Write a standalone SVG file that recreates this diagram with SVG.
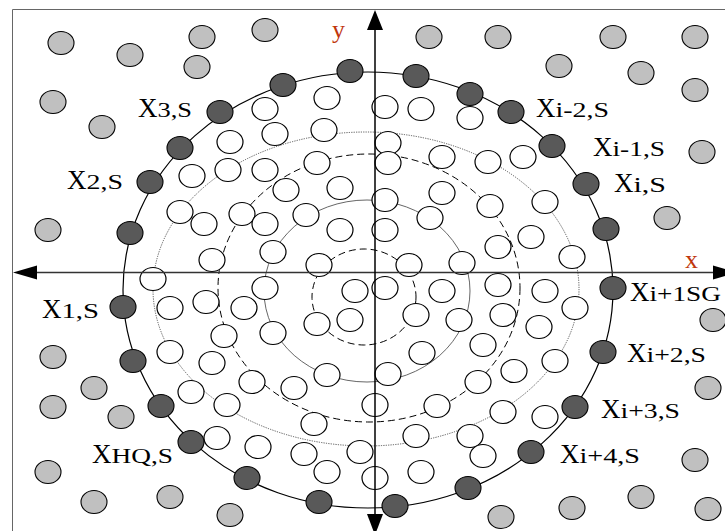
<svg xmlns="http://www.w3.org/2000/svg" width="725" height="531" viewBox="0 0 725 531">
<style>
.w{fill:#fff;stroke:#000;stroke-width:1.2}
.g{fill:#c0c0c0;stroke:#000;stroke-width:1.1}
.d{fill:#595959;stroke:#000;stroke-width:1.1}
.ring{fill:none}
.X{font-family:"Liberation Serif","Times New Roman",serif;font-size:27px;fill:#000}
.s{font-family:"Liberation Serif","Times New Roman",serif;font-size:20px;fill:#000}
.ax{font-family:"Liberation Serif","Times New Roman",serif;font-size:26px;fill:#c0360c}
</style>
<rect width="725" height="531" fill="#fff"/>
<path d="M12.5,531 V9.5 H725" fill="none" stroke="#666" stroke-width="1"/>
<g id="rings">
<ellipse class="ring" cx="368" cy="290" rx="245" ry="218" stroke="#000" stroke-width="1.2"/>
<ellipse class="ring" cx="366" cy="289" rx="213" ry="157" stroke="#444" stroke-width="0.9" stroke-dasharray="1.2 1.2"/>
<ellipse class="ring" cx="369" cy="288" rx="151" ry="134" stroke="#000" stroke-width="1" stroke-dasharray="7 4"/>
<ellipse class="ring" cx="367" cy="291" rx="103" ry="91" stroke="#555" stroke-width="0.9"/>
<ellipse class="ring" cx="364" cy="297" rx="52" ry="48" stroke="#000" stroke-width="1" stroke-dasharray="7 4"/>
</g>
<g id="gray">
<g id="g1"><ellipse class="g" cx="61" cy="43" rx="13" ry="11.5"/></g>
<g id="g2"><ellipse class="g" cx="130" cy="55" rx="13" ry="11.5"/></g>
<g id="g3"><ellipse class="g" cx="202" cy="37" rx="13" ry="11.5"/></g>
<g id="g4"><ellipse class="g" cx="197" cy="67" rx="13" ry="11.5"/></g>
<g id="g5"><ellipse class="g" cx="53" cy="102" rx="13" ry="11.5"/></g>
<g id="g6"><ellipse class="g" cx="102" cy="127" rx="13" ry="11.5"/></g>
<g id="g7"><ellipse class="g" cx="48" cy="230" rx="13" ry="11.5"/></g>
<g id="g8"><ellipse class="g" cx="265" cy="30" rx="13" ry="11.5"/></g>
<g id="g9"><ellipse class="g" cx="429" cy="37" rx="13" ry="11.5"/></g>
<g id="g10"><ellipse class="g" cx="498" cy="37" rx="13" ry="11.5"/></g>
<g id="g11"><ellipse class="g" cx="613" cy="37" rx="13" ry="11.5"/></g>
<g id="g12"><ellipse class="g" cx="695" cy="37" rx="13" ry="11.5"/></g>
<g id="g13"><ellipse class="g" cx="559" cy="66" rx="13" ry="11.5"/></g>
<g id="g14"><ellipse class="g" cx="641" cy="73" rx="13" ry="11.5"/></g>
<g id="g15"><ellipse class="g" cx="695" cy="90" rx="13" ry="11.5"/></g>
<g id="g16"><ellipse class="g" cx="702" cy="152" rx="13" ry="11.5"/></g>
<g id="g17"><ellipse class="g" cx="667" cy="218" rx="13" ry="11.5"/></g>
<g id="g18"><ellipse class="g" cx="713" cy="320" rx="13" ry="11.5"/></g>
<g id="g19"><ellipse class="g" cx="708" cy="388" rx="13" ry="11.5"/></g>
<g id="g20"><ellipse class="g" cx="695" cy="460" rx="13" ry="11.5"/></g>
<g id="g21"><ellipse class="g" cx="708" cy="509" rx="13" ry="11.5"/></g>
<g id="g22"><ellipse class="g" cx="641" cy="497" rx="13" ry="11.5"/></g>
<g id="g23"><ellipse class="g" cx="572" cy="508" rx="13" ry="11.5"/></g>
<g id="g24"><ellipse class="g" cx="501" cy="517" rx="13" ry="11.5"/></g>
<g id="g25"><ellipse class="g" cx="53" cy="357" rx="13" ry="11.5"/></g>
<g id="g26"><ellipse class="g" cx="94" cy="388" rx="13" ry="11.5"/></g>
<g id="g27"><ellipse class="g" cx="53" cy="407" rx="13" ry="11.5"/></g>
<g id="g28"><ellipse class="g" cx="121" cy="417" rx="13" ry="11.5"/></g>
<g id="g29"><ellipse class="g" cx="48" cy="472" rx="13" ry="11.5"/></g>
<g id="g30"><ellipse class="g" cx="94" cy="502" rx="13" ry="11.5"/></g>
<g id="g31"><ellipse class="g" cx="170" cy="497" rx="13" ry="11.5"/></g>
<g id="g32"><ellipse class="g" cx="230" cy="515" rx="13" ry="11.5"/></g>
</g>
<g id="white">
<g id="w1"><ellipse class="w" cx="327" cy="98" rx="13" ry="11.5"/></g>
<g id="w2"><ellipse class="w" cx="265" cy="109" rx="13" ry="11.5"/></g>
<g id="w3"><ellipse class="w" cx="385" cy="107" rx="13" ry="11.5"/></g>
<g id="w4"><ellipse class="w" cx="421" cy="109" rx="13" ry="11.5"/></g>
<g id="w5"><ellipse class="w" cx="470" cy="118" rx="13" ry="11.5"/></g>
<g id="w6"><ellipse class="w" cx="275" cy="134" rx="13" ry="11.5"/></g>
<g id="w7"><ellipse class="w" cx="324" cy="130" rx="13" ry="11.5"/></g>
<g id="w8"><ellipse class="w" cx="388" cy="143" rx="13" ry="11.5"/></g>
<g id="w9"><ellipse class="w" cx="442" cy="157" rx="13" ry="11.5"/></g>
<g id="w10"><ellipse class="w" cx="488" cy="162" rx="13" ry="11.5"/></g>
<g id="w11"><ellipse class="w" cx="265" cy="170" rx="13" ry="11.5"/></g>
<g id="w12"><ellipse class="w" cx="317" cy="163" rx="13" ry="11.5"/></g>
<g id="w13"><ellipse class="w" cx="388" cy="163" rx="13" ry="11.5"/></g>
<g id="w14"><ellipse class="w" cx="286" cy="190" rx="13" ry="11.5"/></g>
<g id="w15"><ellipse class="w" cx="340" cy="188" rx="13" ry="11.5"/></g>
<g id="w16"><ellipse class="w" cx="442" cy="193" rx="13" ry="11.5"/></g>
<g id="w17"><ellipse class="w" cx="242" cy="214" rx="13" ry="11.5"/></g>
<g id="w18"><ellipse class="w" cx="265" cy="224" rx="13" ry="11.5"/></g>
<g id="w19"><ellipse class="w" cx="306" cy="215" rx="13" ry="11.5"/></g>
<g id="w20"><ellipse class="w" cx="385" cy="200" rx="13" ry="11.5"/></g>
<g id="w21"><ellipse class="w" cx="430" cy="218" rx="13" ry="11.5"/></g>
<g id="w22"><ellipse class="w" cx="490" cy="206" rx="13" ry="11.5"/></g>
<g id="w23"><ellipse class="w" cx="273" cy="252" rx="13" ry="11.5"/></g>
<g id="w24"><ellipse class="w" cx="340" cy="230" rx="13" ry="11.5"/></g>
<g id="w25"><ellipse class="w" cx="385" cy="230" rx="13" ry="11.5"/></g>
<g id="w26"><ellipse class="w" cx="319" cy="265" rx="13" ry="11.5"/></g>
<g id="w27"><ellipse class="w" cx="409" cy="265" rx="13" ry="11.5"/></g>
<g id="w28"><ellipse class="w" cx="462" cy="263" rx="13" ry="11.5"/></g>
<g id="w29"><ellipse class="w" cx="230" cy="142" rx="13" ry="11.5"/></g>
<g id="w30"><ellipse class="w" cx="192" cy="176" rx="13" ry="11.5"/></g>
<g id="w31"><ellipse class="w" cx="228" cy="170" rx="13" ry="11.5"/></g>
<g id="w32"><ellipse class="w" cx="180" cy="212" rx="13" ry="11.5"/></g>
<g id="w33"><ellipse class="w" cx="204" cy="224" rx="13" ry="11.5"/></g>
<g id="w34"><ellipse class="w" cx="212" cy="260" rx="13" ry="11.5"/></g>
<g id="w35"><ellipse class="w" cx="523" cy="157" rx="13" ry="11.5"/></g>
<g id="w36"><ellipse class="w" cx="545" cy="202" rx="13" ry="11.5"/></g>
<g id="w37"><ellipse class="w" cx="531" cy="237" rx="13" ry="11.5"/></g>
<g id="w38"><ellipse class="w" cx="498" cy="247" rx="13" ry="11.5"/></g>
<g id="w39"><ellipse class="w" cx="572" cy="257" rx="13" ry="11.5"/></g>
<g id="w40"><ellipse class="w" cx="153" cy="279" rx="13" ry="11.5"/></g>
<g id="w41"><ellipse class="w" cx="170" cy="308" rx="13" ry="11.5"/></g>
<g id="w42"><ellipse class="w" cx="206" cy="302" rx="13" ry="11.5"/></g>
<g id="w43"><ellipse class="w" cx="224" cy="336" rx="13" ry="11.5"/></g>
<g id="w44"><ellipse class="w" cx="170" cy="352" rx="13" ry="11.5"/></g>
<g id="w45"><ellipse class="w" cx="212" cy="363" rx="13" ry="11.5"/></g>
<g id="w46"><ellipse class="w" cx="191" cy="392" rx="13" ry="11.5"/></g>
<g id="w47"><ellipse class="w" cx="227" cy="405" rx="13" ry="11.5"/></g>
<g id="w48"><ellipse class="w" cx="217" cy="438" rx="13" ry="11.5"/></g>
<g id="w49"><ellipse class="w" cx="265" cy="288" rx="13" ry="11.5"/></g>
<g id="w50"><ellipse class="w" cx="355" cy="291" rx="13" ry="11.5"/></g>
<g id="w51"><ellipse class="w" cx="385" cy="288" rx="13" ry="11.5"/></g>
<g id="w52"><ellipse class="w" cx="442" cy="291" rx="13" ry="11.5"/></g>
<g id="w53"><ellipse class="w" cx="244" cy="308" rx="13" ry="11.5"/></g>
<g id="w54"><ellipse class="w" cx="317" cy="324" rx="13" ry="11.5"/></g>
<g id="w55"><ellipse class="w" cx="350" cy="320" rx="13" ry="11.5"/></g>
<g id="w56"><ellipse class="w" cx="416" cy="315" rx="13" ry="11.5"/></g>
<g id="w57"><ellipse class="w" cx="459" cy="320" rx="13" ry="11.5"/></g>
<g id="w58"><ellipse class="w" cx="273" cy="333" rx="13" ry="11.5"/></g>
<g id="w59"><ellipse class="w" cx="422" cy="353" rx="13" ry="11.5"/></g>
<g id="w60"><ellipse class="w" cx="327" cy="375" rx="13" ry="11.5"/></g>
<g id="w61"><ellipse class="w" cx="388" cy="374" rx="13" ry="11.5"/></g>
<g id="w62"><ellipse class="w" cx="252" cy="382" rx="13" ry="11.5"/></g>
<g id="w63"><ellipse class="w" cx="294" cy="388" rx="13" ry="11.5"/></g>
<g id="w64"><ellipse class="w" cx="375" cy="405" rx="13" ry="11.5"/></g>
<g id="w65"><ellipse class="w" cx="437" cy="406" rx="13" ry="11.5"/></g>
<g id="w66"><ellipse class="w" cx="314" cy="424" rx="13" ry="11.5"/></g>
<g id="w67"><ellipse class="w" cx="416" cy="436" rx="13" ry="11.5"/></g>
<g id="w68"><ellipse class="w" cx="470" cy="436" rx="13" ry="11.5"/></g>
<g id="w69"><ellipse class="w" cx="258" cy="447" rx="13" ry="11.5"/></g>
<g id="w70"><ellipse class="w" cx="304" cy="454" rx="13" ry="11.5"/></g>
<g id="w71"><ellipse class="w" cx="360" cy="452" rx="13" ry="11.5"/></g>
<g id="w72"><ellipse class="w" cx="327" cy="472" rx="13" ry="11.5"/></g>
<g id="w73"><ellipse class="w" cx="375" cy="478" rx="13" ry="11.5"/></g>
<g id="w74"><ellipse class="w" cx="421" cy="472" rx="13" ry="11.5"/></g>
<g id="w75"><ellipse class="w" cx="483" cy="456" rx="13" ry="11.5"/></g>
<g id="w76"><ellipse class="w" cx="483" cy="345" rx="13" ry="11.5"/></g>
<g id="w77"><ellipse class="w" cx="478" cy="382" rx="13" ry="11.5"/></g>
<g id="w78"><ellipse class="w" cx="498" cy="285" rx="13" ry="11.5"/></g>
<g id="w79"><ellipse class="w" cx="545" cy="291" rx="13" ry="11.5"/></g>
<g id="w80"><ellipse class="w" cx="503" cy="315" rx="13" ry="11.5"/></g>
<g id="w81"><ellipse class="w" cx="575" cy="308" rx="13" ry="11.5"/></g>
<g id="w82"><ellipse class="w" cx="539" cy="327" rx="13" ry="11.5"/></g>
<g id="w83"><ellipse class="w" cx="555" cy="361" rx="13" ry="11.5"/></g>
<g id="w84"><ellipse class="w" cx="514" cy="371" rx="13" ry="11.5"/></g>
<g id="w85"><ellipse class="w" cx="503" cy="412" rx="13" ry="11.5"/></g>
<g id="w86"><ellipse class="w" cx="545" cy="417" rx="13" ry="11.5"/></g>
</g>
<g id="dark">
<g id="d1"><ellipse class="d" cx="350" cy="71" rx="13" ry="11.5"/></g>
<g id="d2"><ellipse class="d" cx="416" cy="76" rx="13" ry="11.5"/></g>
<g id="d3"><ellipse class="d" cx="470" cy="94" rx="13" ry="11.5"/></g>
<g id="d4"><ellipse class="d" cx="283" cy="85" rx="13" ry="11.5"/></g>
<g id="d5"><ellipse class="d" cx="220" cy="112" rx="13" ry="11.5"/><text class="X" x="138" y="117">X</text><text class="s" x="157.5" y="117" textLength="34.5" lengthAdjust="spacingAndGlyphs">3,S</text></g>
<g id="d6"><ellipse class="d" cx="180" cy="148" rx="13" ry="11.5"/></g>
<g id="d7"><ellipse class="d" cx="150" cy="182" rx="13" ry="11.5"/><text class="X" x="67" y="189">X</text><text class="s" x="86.5" y="189" textLength="36.5" lengthAdjust="spacingAndGlyphs">2,S</text></g>
<g id="d8"><ellipse class="d" cx="130" cy="233" rx="13" ry="11.5"/></g>
<g id="d9"><ellipse class="d" cx="123" cy="307" rx="13" ry="11.5"/><text class="X" x="42" y="318">X</text><text class="s" x="61.5" y="318" textLength="37.5" lengthAdjust="spacingAndGlyphs">1,S</text></g>
<g id="d10"><ellipse class="d" cx="133" cy="361" rx="13" ry="11.5"/></g>
<g id="d11"><ellipse class="d" cx="161" cy="406" rx="13" ry="11.5"/></g>
<g id="d12"><ellipse class="d" cx="191" cy="442" rx="13" ry="11.5"/><text class="X" x="92" y="463">X</text><text class="s" x="111.5" y="463" textLength="61.5" lengthAdjust="spacingAndGlyphs">HQ,S</text></g>
<g id="d13"><ellipse class="d" cx="247" cy="478" rx="13" ry="11.5"/></g>
<g id="d14"><ellipse class="d" cx="319" cy="502" rx="13" ry="11.5"/></g>
<g id="d15"><ellipse class="d" cx="395" cy="506" rx="13" ry="11.5"/></g>
<g id="d16"><ellipse class="d" cx="468" cy="488" rx="13" ry="11.5"/></g>
<g id="d17"><ellipse class="d" cx="531" cy="452" rx="13" ry="11.5"/><text class="X" x="560" y="463">X</text><text class="s" x="579.5" y="463" textLength="60.5" lengthAdjust="spacingAndGlyphs">i+4,S</text></g>
<g id="d18"><ellipse class="d" cx="575" cy="407" rx="13" ry="11.5"/><text class="X" x="601" y="418">X</text><text class="s" x="620.5" y="418" textLength="59.5" lengthAdjust="spacingAndGlyphs">i+3,S</text></g>
<g id="d19"><ellipse class="d" cx="603" cy="352" rx="13" ry="11.5"/><text class="X" x="627" y="362">X</text><text class="s" x="646.5" y="362" textLength="59.5" lengthAdjust="spacingAndGlyphs">i+2,S</text></g>
<g id="d20"><ellipse class="d" cx="613" cy="288" rx="13" ry="11.5"/><text class="X" x="630" y="301">X</text><text class="s" x="649.5" y="301" textLength="71.5" lengthAdjust="spacingAndGlyphs">i+1SG</text></g>
<g id="d21"><ellipse class="d" cx="606" cy="229" rx="13" ry="11.5"/></g>
<g id="d22"><ellipse class="d" cx="586" cy="184" rx="13" ry="11.5"/><text class="X" x="614" y="192">X</text><text class="s" x="633.5" y="192" textLength="32.5" lengthAdjust="spacingAndGlyphs">i,S</text></g>
<g id="d23"><ellipse class="d" cx="552" cy="146" rx="13" ry="11.5"/><text class="X" x="593" y="156">X</text><text class="s" x="612.5" y="156" textLength="52.5" lengthAdjust="spacingAndGlyphs">i-1,S</text></g>
<g id="d24"><ellipse class="d" cx="511" cy="112" rx="13" ry="11.5"/><text class="X" x="536" y="117">X</text><text class="s" x="555.5" y="117" textLength="53.5" lengthAdjust="spacingAndGlyphs">i-2,S</text></g>
</g>
<g id="axes">
<line x1="36" y1="272.5" x2="714" y2="272.5" stroke="#333" stroke-width="1.3"/>
<line x1="375" y1="29" x2="375" y2="515" stroke="#000" stroke-width="1.5"/>
<polygon points="13,272.5 37,265.5 37,279.5" fill="#000"/>
<polygon points="737,272.5 713,265.5 713,279.5" fill="#000"/>
<polygon points="375,10 367,30 383,30" fill="#000"/>
<polygon points="375,535 367,514 383,514" fill="#000"/>
<text class="ax" x="332" y="38">y</text>
<text class="ax" x="685" y="268">x</text>
</g>
</svg>
